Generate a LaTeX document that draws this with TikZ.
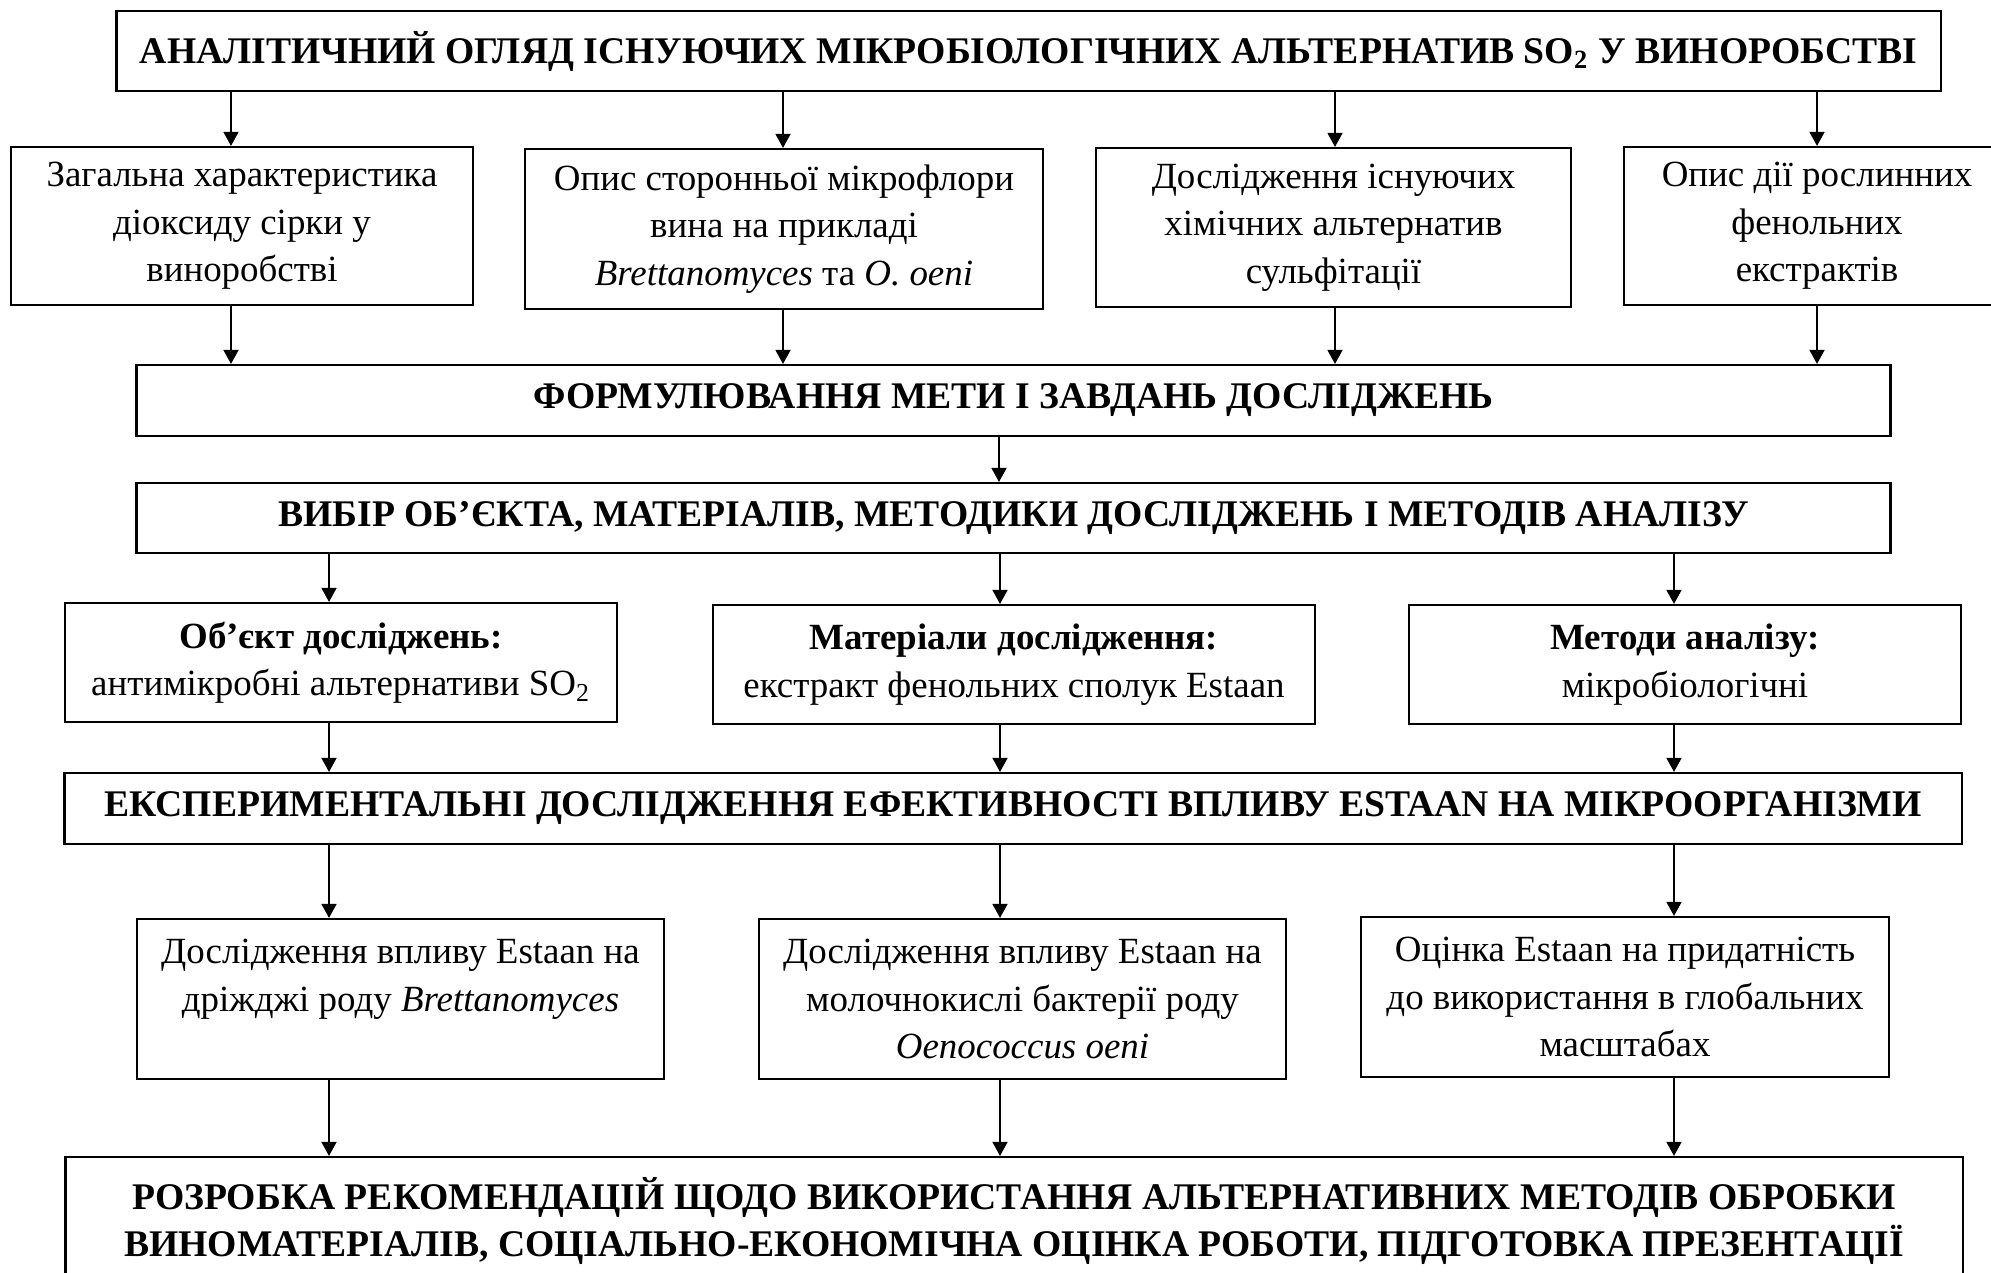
\documentclass[tikz,border=0pt]{standalone}
\usepackage{fontspec}
\setmainfont{Liberation Serif}
\usetikzlibrary{arrows.meta}

\begin{document}
\begin{tikzpicture}[x=0.01cm, y=-0.01cm, >={Triangle[length=1.4mm, width=1.5mm]},
  box/.style={draw, line width=0.6pt, align=center, inner sep=0pt, font=\fontsize{10.5}{13.5}\selectfont},
  hbox/.style={box, font=\fontsize{10.7}{13.2}\selectfont\bfseries},
  link/.style={->, line width=0.45pt}]

\useasboundingbox (0,0) rectangle (1991,1272);
\clip (0,0) rectangle (1991,1272);

% Arrow columns
\coordinate (t1) at (231,0);
\coordinate (t2) at (783,0);
\coordinate (t3) at (1335,0);
\coordinate (t4) at (1817,0);
\coordinate (m0) at (999,0);
\coordinate (c1) at (329,0);
\coordinate (c2) at (1000,0);
\coordinate (c3) at (1674,0);

% Analytical review
\node[hbox, minimum width=18.23cm, minimum height=0.8cm] (review) at (1028.5,51)
  {АНАЛІТИЧНИЙ ОГЛЯД ІСНУЮЧИХ МІКРОБІОЛОГІЧНИХ АЛЬТЕРНАТИВ SO\textsubscript{2} У ВИНОРОБСТВІ};

% Literature topics
\node[box, minimum width=4.62cm, minimum height=1.58cm] (sulfur) at (242,226)
  {Загальна характеристика\\діоксиду сірки у\\виноробстві};
\node[box, minimum width=5.18cm, minimum height=1.6cm] (flora) at (784,229)
  {Опис сторонньої мікрофлори\\вина на прикладі\\\textit{Brettanomyces} та \textit{O. oeni}};
\node[box, minimum width=4.75cm, minimum height=1.59cm] (chem) at (1333.5,227.5)
  {Дослідження існуючих\\хімічних альтернатив\\сульфітації};
\node[box, minimum width=3.86cm, minimum height=1.58cm] (plant) at (1817,226)
  {Опис дії рослинних\\фенольних\\екстрактів};

% Aim and choice
\node[hbox, minimum width=17.53cm, minimum height=0.71cm] (aim) at (1013.5,400.5)
  {ФОРМУЛЮВАННЯ МЕТИ І ЗАВДАНЬ ДОСЛІДЖЕНЬ};
\node[hbox, minimum width=17.53cm, minimum height=0.7cm] (choice) at (1013.5,518)
  {ВИБІР ОБ’ЄКТА, МАТЕРІАЛІВ, МЕТОДИКИ ДОСЛІДЖЕНЬ І МЕТОДІВ АНАЛІЗУ};

% Object, materials, methods
\node[box, minimum width=5.52cm, minimum height=1.19cm] (object) at (341,662.5)
  {\textbf{Об’єкт досліджень:}\\антимікробні альтернативи SO\textsubscript{2}};
\node[box, minimum width=6.02cm, minimum height=1.19cm] (materials) at (1014,664.5)
  {\textbf{Матеріали дослідження:}\\екстракт фенольних сполук Estaan};
\node[box, minimum width=5.52cm, minimum height=1.19cm] (methods) at (1685,664.5)
  {\textbf{Методи аналізу:}\\мікробіологічні};

% Experiments
\node[hbox, minimum width=18.96cm, minimum height=0.71cm] (exper) at (1013,808.5)
  {ЕКСПЕРИМЕНТАЛЬНІ ДОСЛІДЖЕННЯ ЕФЕКТИВНОСТІ ВПЛИВУ ESTAAN НА МІКРООРГАНІЗМИ};

\node[box, minimum width=5.27cm, minimum height=1.6cm] (yeast) at (400.5,999)
  {Дослідження впливу Estaan на\\дріжджі роду \textit{Brettanomyces}\\\mbox{}};
\node[box, minimum width=5.27cm, minimum height=1.6cm] (bacteria) at (1022.5,999)
  {Дослідження впливу Estaan на\\молочнокислі бактерії роду\\\textit{Oenococcus oeni}};
\node[box, minimum width=5.28cm, minimum height=1.6cm] (global) at (1625,997)
  {Оцінка Estaan на придатність\\до використання в глобальних\\масштабах};

% Recommendations
\node[hbox, minimum width=18.96cm, minimum height=1.28cm] (recom) at (1014,1221)
  {РОЗРОБКА РЕКОМЕНДАЦІЙ ЩОДО ВИКОРИСТАННЯ АЛЬТЕРНАТИВНИХ МЕТОДІВ ОБРОБКИ\\
   ВИНОМАТЕРІАЛІВ, СОЦІАЛЬНО-ЕКОНОМІЧНА ОЦІНКА РОБОТИ, ПІДГОТОВКА ПРЕЗЕНТАЦІЇ};

% Arrows
\foreach \n/\k in {sulfur/t1, flora/t2, chem/t3, plant/t4} {
  \draw[link] (review.south -| \k) -- (\n.north -| \k);
  \draw[link] (\n.south -| \k) -- (aim.north -| \k);
}
\draw[link] (aim.south -| m0) -- (choice.north -| m0);
\foreach \n/\k/\r in {object/c1/yeast, materials/c2/bacteria, methods/c3/global} {
  \draw[link] (choice.south -| \k) -- (\n.north -| \k);
  \draw[link] (\n.south -| \k) -- (exper.north -| \k);
  \draw[link] (exper.south -| \k) -- (\r.north -| \k);
  \draw[link] (\r.south -| \k) -- (recom.north -| \k);
}

\end{tikzpicture}
\end{document}
